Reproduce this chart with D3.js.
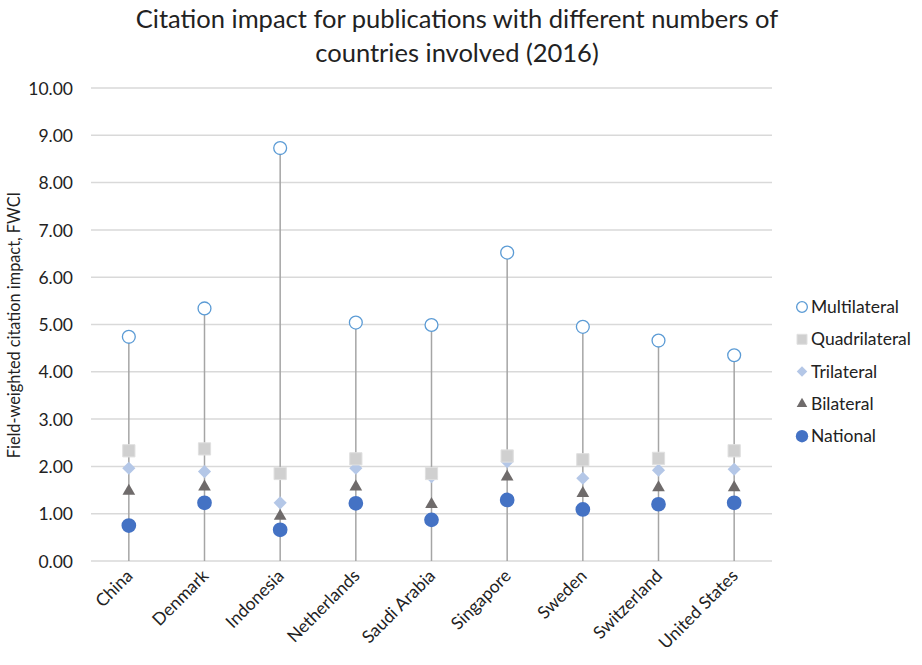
<!DOCTYPE html>
<html><head><meta charset="utf-8">
<script src="https://cdn.jsdelivr.net/npm/d3@7"></script>
<style>body{margin:0;background:#fff}svg{display:block}text{font-family:Lato,"Open Sans",sans-serif;fill:#222}</style>
</head><body><svg id="c" width="922" height="665"></svg>
<script>
const categories = ["China","Denmark","Indonesia","Netherlands","Saudi Arabia","Singapore","Sweden","Switzerland","United States"];
const multilateral = [4.74,5.34,8.73,5.04,4.99,6.52,4.95,4.66,4.35];
const quadrilateral = [2.33,2.37,1.85,2.16,1.85,2.22,2.14,2.17,2.33];
const trilateral = [1.96,1.89,1.23,1.96,1.78,2.10,1.75,1.92,1.94];
const bilateral = [1.48,1.57,0.95,1.57,1.20,1.78,1.43,1.55,1.55];
const national = [0.75,1.23,0.66,1.22,0.87,1.29,1.09,1.20,1.23];
const yTicks = [0,1,2,3,4,5,6,7,8,9,10];
const seriesNames = ["Multilateral","Quadrilateral","Trilateral","Bilateral","National"];

const svg = d3.select("#c");
const L=91, R=772, T=88, B=561;
const x = d3.scaleBand().domain(categories).range([L,R]);
const y = d3.scaleLinear().domain([0,10]).range([B,T]);
const F = "Lato,'Open Sans',sans-serif";

// title
svg.append("text").attr("x",457).attr("y",28).attr("text-anchor","middle").style("font-size","25.5px").text("Citation impact for publications with different numbers of");
svg.append("text").attr("x",457).attr("y",62).attr("text-anchor","middle").style("font-size","25.5px").text("countries involved (2016)");

// gridlines
svg.append("g").selectAll("line").data(yTicks).join("line")
  .attr("x1",L).attr("x2",R).attr("y1",d=>y(d)).attr("y2",d=>y(d))
  .attr("stroke","#d9d9d9").attr("stroke-width",1.5);

// y axis labels
const yAxis = d3.axisLeft(y).tickValues(yTicks).tickFormat(d3.format(".2f")).tickSize(0).tickPadding(0);
const gy = svg.append("g").attr("transform",`translate(${L-18},0)`).call(yAxis);
gy.select(".domain").remove();
gy.selectAll("text").style("font-size","17.5px").style("font-family",F).attr("fill","#222").attr("dy","0.35em");

svg.append("text").attr("transform","translate(20,325) rotate(-90)").attr("text-anchor","middle").style("font-size","16.3px").text("Field-weighted citation impact, FWCI");

// x axis labels
const xAxis = d3.axisBottom(x).tickSize(0).tickPadding(0);
const gx = svg.append("g").attr("transform",`translate(0,${B})`).call(xAxis);
gx.select(".domain").remove();
gx.selectAll("text").style("font-size","17.5px").style("font-family",F).attr("fill","#222")
  .attr("text-anchor","end").attr("dy",null).attr("transform","translate(5,16) rotate(-45)");

const cx = d => x(d)+x.bandwidth()/2;
// high-low lines
svg.append("g").selectAll("line").data(categories).join("line")
  .attr("x1",cx).attr("x2",cx).attr("y1",y(0)).attr("y2",(d,i)=>y(multilateral[i]))
  .attr("stroke","#a5a5a5").attr("stroke-width",1.5);

const sym = {
  Multilateral: {gen:d3.symbol(d3.symbolCircle,130), fill:"#fff", stroke:"#5b9bd5", sw:1.3},
  Quadrilateral:{gen:d3.symbol(d3.symbolSquare,150), fill:"#d0d0d0", stroke:"#e0e0e0", sw:1},
  Trilateral:   {gen:d3.symbol(d3.symbolDiamond2,110), fill:"#b4c7e7", stroke:"none", sw:0},
  Bilateral:    {gen:d3.symbol(d3.symbolTriangle2,115), fill:"#6f6b6b", stroke:"none", sw:0},
  National:     {gen:d3.symbol(d3.symbolCircle,170), fill:"#4472c4", stroke:"none", sw:0}
};
const dataBy = {Multilateral:multilateral,Quadrilateral:quadrilateral,Trilateral:trilateral,Bilateral:bilateral,National:national};
const drawOrder = ["National","Bilateral","Trilateral","Quadrilateral","Multilateral"];
drawOrder.forEach(name=>{
  const s=sym[name];
  svg.append("g").selectAll("path").data(categories).join("path")
    .attr("d",s.gen()).attr("transform",(d,i)=>`translate(${cx(d)},${y(dataBy[name][i])})`)
    .attr("fill",s.fill).attr("stroke",s.stroke).attr("stroke-width",s.sw);
});

// legend
const lg = svg.append("g");
const small = {Multilateral:d3.symbol(d3.symbolCircle,90),Quadrilateral:d3.symbol(d3.symbolSquare,100),Trilateral:d3.symbol(d3.symbolDiamond2,70),Bilateral:d3.symbol(d3.symbolTriangle2,80),National:d3.symbol(d3.symbolCircle,120)};
seriesNames.forEach((name,i)=>{
  const yy = 307 + i*32.3;
  const s=sym[name];
  lg.append("path").attr("d",small[name]()).attr("transform",`translate(802,${yy})`)
    .attr("fill",s.fill).attr("stroke",s.stroke).attr("stroke-width",s.sw);
  lg.append("text").attr("x",811).attr("y",yy).attr("dy","0.35em").style("font-size","17.5px").text(name);
});
</script></body></html>
